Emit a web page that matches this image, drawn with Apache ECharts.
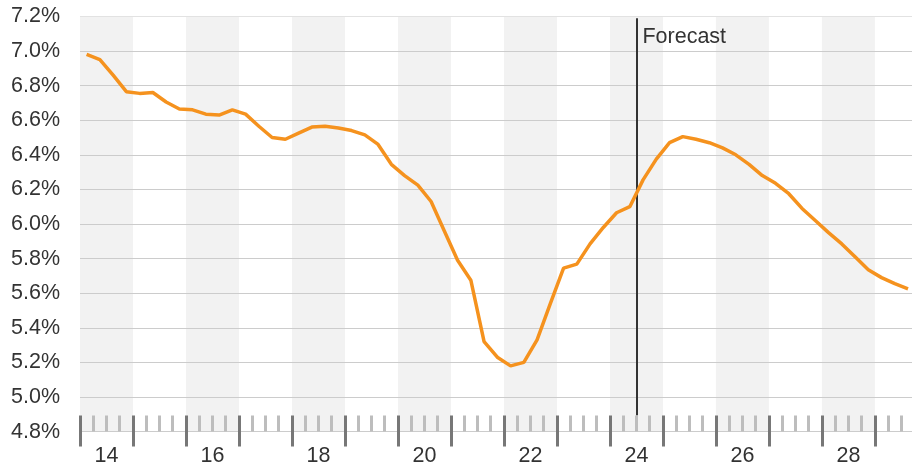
<!DOCTYPE html>
<html>
<head>
<meta charset="utf-8">
<script src="https://cdn.jsdelivr.net/npm/echarts@6/dist/echarts.min.js"></script>
<style>
html,body{margin:0;padding:0;background:#fff;}
#chart{width:913px;height:467px;}
</style>
</head>
<body>
<div id="chart"></div>
<script>
// Quarterly series, starting 2014 Q1
var startYear = 2014;
var values = [
  6.98, 6.95, 6.86, 6.765,
  6.755, 6.76, 6.705, 6.665,
  6.66, 6.635, 6.63, 6.66,
  6.635, 6.565, 6.50, 6.49,
  6.525, 6.56, 6.565, 6.555,
  6.54, 6.515, 6.46, 6.345,
  6.28, 6.225, 6.13, 5.96,
  5.79, 5.675, 5.32, 5.23,
  5.18, 5.20, 5.33, 5.54,
  5.745, 5.768, 5.885, 5.98,
  6.065, 6.10, 6.255, 6.375,
  6.47, 6.505, 6.49, 6.47,
  6.44, 6.40, 6.345, 6.28,
  6.235, 6.175, 6.09, 6.02,
  5.95, 5.885, 5.81, 5.735,
  5.69, 5.655, 5.625
];
var years = [2014,2015,2016,2017,2018,2019,2020,2021,2022,2023,2024,2025,2026,2027,2028,2029];
var shadedYears = [2014,2016,2018,2020,2022,2024,2026,2028];
var labelYears = [2014,2016,2018,2020,2022,2024,2026,2028];
var forecastStart = 2024.5;
var forecastLabel = 'Forecast';
var yTicks = [4.8,5.0,5.2,5.4,5.6,5.8,6.0,6.2,6.4,6.6,6.8,7.0,7.2];

var xMin = 2014, xMax = 2029.7;
var seriesData = values.map(function(v, i){
  return [startYear + Math.floor(i/4) + ((i%4) + 0.5)/4, v];
});
var quarterTicks = [];
years.forEach(function(y){ [0.25,0.5,0.75].forEach(function(q){ if (y+q <= xMax) quarterTicks.push(y+q); }); });
var labelVals = labelYears.map(function(y){ return y + 0.5; });

var font = 'Liberation Sans, Arial, Helvetica, sans-serif';
var fs = 21.5;
var gridColors = yTicks.map(function(t, i){ return i === yTicks.length-1 ? '#e2e2e2' : '#cccccc'; });

var chart = echarts.init(document.getElementById('chart'), null, {renderer:'canvas'});
var baseX = {
  type:'value', min:xMin, max:xMax, position:'bottom',
  splitLine:{show:false}, axisLine:{show:false}
};
chart.setOption({
  animation:false,
  grid:{left:80, right:1, top:16.4, bottom:35.4, containLabel:false},
  xAxis:[
    Object.assign({}, baseX, {
      axisTick:{show:true, inside:true, length:16, customValues:quarterTicks, lineStyle:{color:'#bdbdbd', width:3}},
      axisLabel:{show:true, customValues:labelVals, margin:13, color:'#333', fontSize:fs, fontFamily:font,
        formatter:function(v){ return String(Math.floor(v) % 100); }}
    }),
    Object.assign({}, baseX, {
      axisTick:{show:true, inside:true, length:16, customValues:years, lineStyle:{color:'#777', width:3}},
      axisLabel:{show:false}
    }),
    Object.assign({}, baseX, {
      axisTick:{show:true, inside:false, length:15, customValues:years, lineStyle:{color:'#777', width:3}},
      axisLabel:{show:false}
    })
  ],
  yAxis:{
    type:'value', min:4.8, max:7.2, interval:0.2,
    axisLine:{show:false}, axisTick:{show:false},
    axisLabel:{color:'#333', fontSize:fs, fontFamily:font, margin:20,
      formatter:function(v){ return v.toFixed(1) + '%'; }},
    splitLine:{show:true, lineStyle:{color:gridColors, width:1.2}}
  },
  series:[{
    type:'line', xAxisIndex:0, data:seriesData, showSymbol:false, symbol:'none',
    lineStyle:{color:'#F5921E', width:3.5}, z:5,
    markArea:{silent:true, itemStyle:{color:'#f2f2f2'},
      data: shadedYears.map(function(y){ return [{xAxis:y},{xAxis:y+1}]; }), z:-1},
    markLine:{silent:true, symbol:'none', label:{show:false},
      lineStyle:{color:'#333', width:2, type:'solid'},
      data:[[{coord:[forecastStart, 7.19]},{coord:[forecastStart, 4.895]}]]},
    markPoint:{silent:true, symbol:'circle', symbolSize:0,
      label:{show:true, position:'right', distance:6, formatter:forecastLabel, color:'#333', fontSize:fs, fontFamily:font},
      data:[{coord:[forecastStart, 7.081]}]}
  }]
});
</script>
</body>
</html>
